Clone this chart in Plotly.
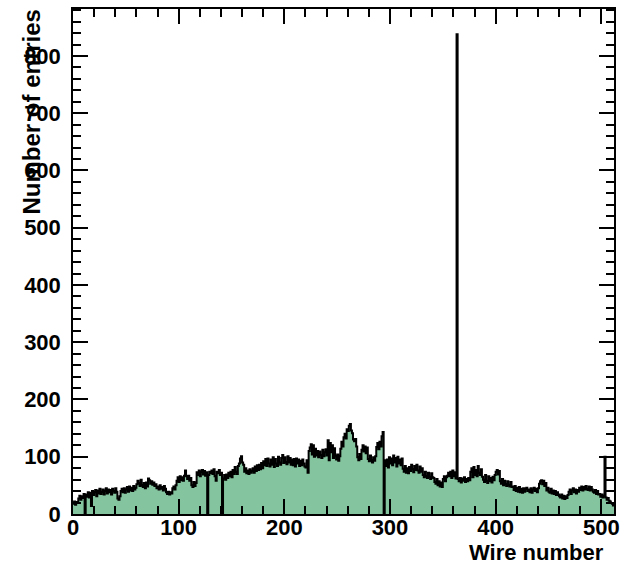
import plotly.graph_objects as go

# Hit counts per wire (512 wires), grouped in blocks of 16 wires
wire_counts = [
    18, 22, 16, 21, 19, 27, 32, 25, 31, 28, 35, 0, 34, 30, 38, 29,            # 0-15
    37, 14, 40, 33, 38, 42, 31, 41, 36, 44, 35, 39, 43, 34, 40, 45,           # 16-31
    36, 43, 38, 42, 34, 44, 40, 37, 45, 39, 27, 25, 31, 40, 44, 38,           # 32-47
    45, 37, 43, 47, 39, 48, 41, 46, 40, 49, 43, 46, 52, 58, 54, 49,           # 48-63
    60, 50, 47, 54, 45, 55, 48, 62, 59, 53, 57, 51, 55, 49, 52, 45,           # 64-79
    48, 43, 50, 44, 47, 41, 49, 44, 38, 35, 39, 34, 38, 36, 45, 48,           # 80-95
    43, 50, 58, 64, 56, 66, 59, 64, 58, 67, 76, 66, 61, 67, 58, 63,           # 96-111
    50, 47, 56, 49, 54, 73, 68, 76, 66, 74, 77, 69, 75, 67, 73, 0,            # 112-127
    68, 74, 71, 76, 70, 78, 66, 58, 74, 71, 77, 68, 72, 0, 62, 68,            # 128-143
    60, 69, 63, 72, 66, 74, 64, 77, 70, 82, 74, 70, 84, 88, 97, 101,          # 144-159
    90, 86, 74, 80, 71, 76, 70, 78, 72, 75, 80, 72, 83, 75, 85, 77,           # 160-175
    86, 78, 89, 80, 92, 85, 96, 84, 97, 88, 83, 95, 86, 99, 82, 96,           # 176-191
    88, 84, 100, 90, 86, 98, 103, 89, 99, 91, 87, 101, 90, 98, 86, 95,        # 192-207
    85, 96, 83, 97, 88, 95, 84, 93, 85, 95, 88, 83, 81, 94, 72, 110,          # 208-223
    116, 122, 104, 120, 100, 114, 102, 110, 99, 109, 103, 98, 112, 101, 108, 113,  # 224-239
    102, 129, 94, 124, 108, 120, 98, 115, 101, 95, 104, 93, 101, 114, 126, 118,    # 240-255
    134, 140, 132, 148, 145, 154, 157, 146, 141, 130, 127, 131, 118, 99, 94, 105,  # 256-271
    96, 112, 120, 109, 118, 106, 116, 96, 92, 102, 94, 90, 99, 93, 101, 117,       # 272-287
    124, 113, 126, 118, 136, 143, 0, 94, 84, 95, 81, 99, 88, 97, 85, 102,          # 288-303
    90, 98, 83, 100, 88, 95, 85, 97, 79, 74, 84, 72, 80, 71, 82, 75,               # 304-319
    86, 78, 73, 84, 77, 86, 76, 72, 83, 74, 80, 68, 64, 74, 66, 63,                # 320-335
    72, 65, 61, 71, 64, 63, 56, 53, 61, 50, 57, 48, 55, 47, 61, 66,                # 336-351
    57, 64, 67, 72, 66, 74, 63, 76, 66, 73, 62, 838, 61, 57, 63, 55,               # 352-367
    62, 58, 64, 56, 61, 57, 63, 59, 74, 80, 64, 82, 68, 77, 66, 84,                # 368-383
    72, 68, 78, 65, 60, 56, 68, 58, 54, 66, 57, 63, 55, 65, 59, 68,                # 384-399
    74, 77, 69, 75, 57, 53, 61, 50, 58, 52, 49, 57, 51, 48, 56, 47,                # 400-415
    48, 42, 49, 40, 46, 39, 47, 38, 44, 37, 45, 39, 44, 46, 40, 43,                # 416-431
    38, 45, 37, 43, 46, 40, 44, 38, 45, 53, 57, 59, 52, 58, 49, 54,                # 432-447
    41, 46, 39, 37, 44, 36, 41, 35, 40, 33, 38, 34, 31, 29, 34, 27,                # 448-463
    32, 26, 31, 28, 33, 39, 43, 35, 41, 45, 38, 43, 36, 42, 39, 46,                # 464-479
    42, 48, 41, 47, 43, 49, 44, 42, 48, 41, 47, 43, 39, 37, 42, 35,                # 480-495
    40, 34, 35, 30, 34, 29, 31, 100, 29, 25, 28, 23, 22, 19, 18, 15,               # 496-511
]

n_wires = len(wire_counts)
bin_edges = list(range(n_wires + 1))
step_y = wire_counts + [wire_counts[-1]]

x_ticks = [0, 100, 200, 300, 400, 500]
y_ticks = [0, 100, 200, 300, 400, 500, 600, 700, 800]

FONT = "Liberation Sans"
FILL = "rgb(132,196,158)"

fig = go.Figure()
fig.add_trace(go.Scatter(
    x=bin_edges,
    y=step_y,
    mode="lines",
    line=dict(shape="hv", color="black", width=2),
    fill="tozeroy",
    fillcolor=FILL,
    hoverinfo="skip",
    showlegend=False,
))

axis_common = dict(
    showline=True,
    linecolor="black",
    linewidth=1.5,
    mirror="ticks",
    ticks="inside",
    ticklen=15,
    tickwidth=1.5,
    tickcolor="black",
    showgrid=False,
    zeroline=False,
    tickfont=dict(family=FONT, size=22, color="black", weight="bold"),
    minor=dict(ticks="inside", ticklen=8, tickwidth=1.5, tickcolor="black",
               dtick=20, showgrid=False),
)

fig.update_xaxes(range=[0, n_wires], tickvals=x_ticks,
                 ticktext=[str(v) for v in x_ticks], ticklabelstandoff=-7,
                 **axis_common)
fig.update_yaxes(range=[0, 882], tickvals=y_ticks,
                 ticktext=[str(v) for v in y_ticks], ticklabelstandoff=6,
                 **axis_common)

fig.add_annotation(
    text="Number of entries", textangle=-90,
    xref="paper", yref="paper", x=0, y=1,
    xanchor="center", yanchor="top", xshift=-42, yshift=1,
    showarrow=False,
    font=dict(family=FONT, size=24, color="black", weight="bold"),
)
fig.add_annotation(
    text="Wire number",
    xref="paper", yref="paper", x=1, y=0,
    xanchor="right", yanchor="middle", xshift=-8, yshift=-38,
    showarrow=False,
    font=dict(family=FONT, size=22, color="black", weight="bold"),
)

fig.update_layout(
    width=627, height=566,
    margin=dict(l=73, r=7, t=9, b=52),
    paper_bgcolor="white",
    plot_bgcolor="white",
)

fig.write_html("out.html")
